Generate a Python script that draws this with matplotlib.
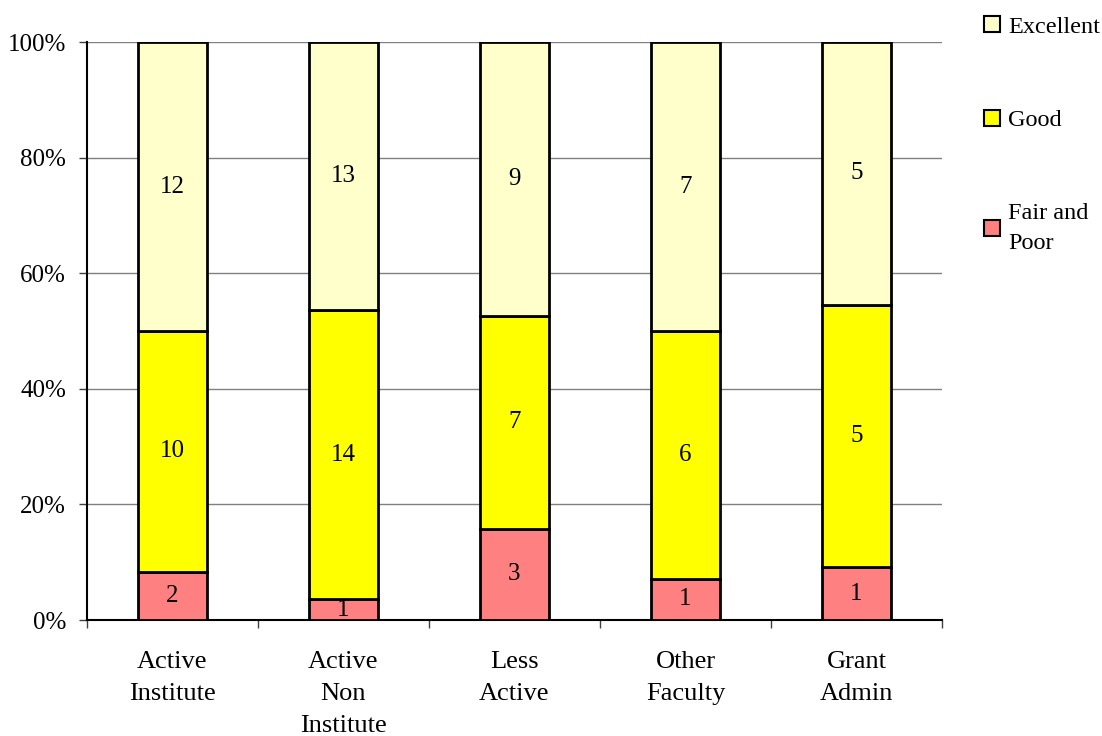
import numpy as np
import matplotlib.pyplot as plt
from matplotlib.patches import Patch

# survey counts per group
groups = ['Active\nInstitute', 'Active\nNon\nInstitute', 'Less\nActive', 'Other\nFaculty', 'Grant\nAdmin']
fair_poor = np.array([2, 1, 3, 1, 1])
good = np.array([10, 14, 7, 6, 5])
excellent = np.array([12, 13, 9, 7, 5])

series = [('Fair and\nPoor', fair_poor, '#FF8080'),
          ('Good', good, '#FFFF00'),
          ('Excellent', excellent, '#FFFFCC')]

plt.rcParams['font.family'] = ['Liberation Serif', 'DejaVu Serif']

total = fair_poor + good + excellent
x = np.arange(len(groups))

fig = plt.figure(figsize=(11.02, 7.36), dpi=100)
ax = fig.add_axes([0.0789, 0.1576, 0.7759, 0.7853])

bottom = np.zeros(len(groups))
for name, counts, color in series:
    frac = counts / total
    ax.bar(x, frac, 0.4, bottom=bottom, color=color, edgecolor='black',
           linewidth=2, zorder=3, label=name)
    for xi, b, f, c in zip(x, bottom, frac, counts):
        ax.text(xi, b + f / 2, str(c), ha='center', va='center',
                fontsize=18, zorder=4)
    bottom += frac

ax.set_xlim(-0.5, len(groups) - 0.5)
ax.set_ylim(0, 1)
ax.set_yticks(np.arange(0, 1.01, 0.2))
ax.set_yticklabels(['{:.0f}%'.format(v * 100) for v in np.arange(0, 1.01, 0.2)],
                   fontsize=18)
ax.yaxis.grid(True, color='#808080', linewidth=1, zorder=0)

# category boundaries as ticks, names in between
ax.set_xticks(np.arange(-0.5, len(groups), 1.0))
ax.set_xticklabels([])
ax.set_xticks(x, minor=True)
ax.set_xticklabels(groups, minor=True, fontsize=19, linespacing=1.6)
ax.tick_params(axis='x', which='minor', length=0, pad=22)
ax.tick_params(axis='x', which='major', length=6, width=1, color='#404040')
ax.tick_params(axis='y', length=6, width=1, color='#404040', pad=9)

ax.spines['top'].set_visible(False)
ax.spines['right'].set_visible(False)
ax.spines['left'].set_linewidth(1.5)
ax.spines['bottom'].set_linewidth(1.5)

handles = [Patch(facecolor=c, edgecolor='black', linewidth=1.5, label=n)
           for n, _, c in reversed(series)]
leg = fig.legend(handles=handles, loc='upper left', bbox_to_anchor=(0.893, 0.978),
                 frameon=False, fontsize=17.5, handlelength=0.65, handleheight=0.65,
                 handletextpad=0.35, labelspacing=2.95, borderpad=0,
                 borderaxespad=0)
for t in leg.get_texts():
    t.set_linespacing(1.6)

fig.savefig('out.png', dpi=100)
